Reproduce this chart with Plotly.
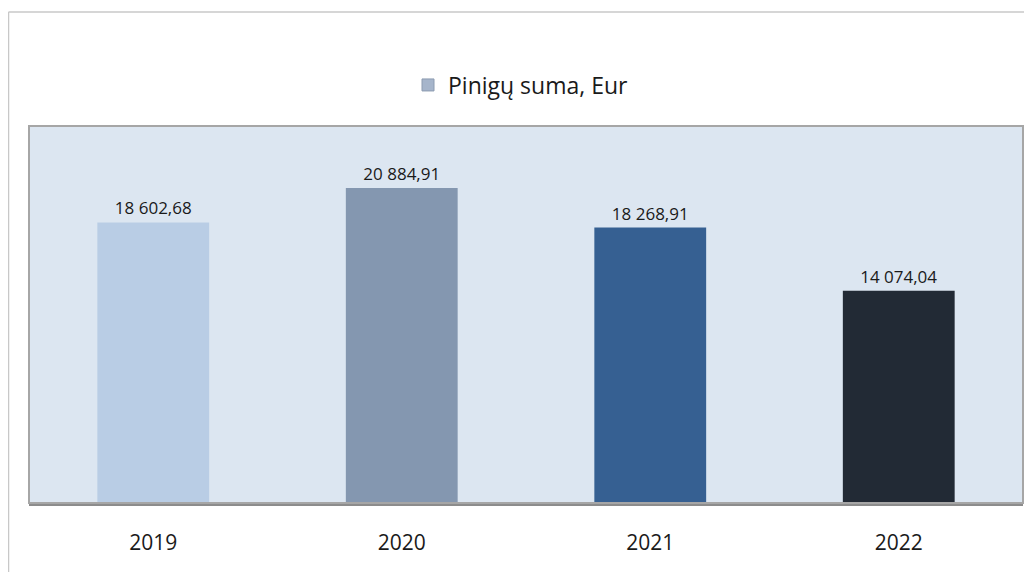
import plotly.graph_objects as go

years = ["2019", "2020", "2021", "2022"]
amounts = [18602.68, 20884.91, 18268.91, 14074.04]
bar_colors = ["#B9CDE5", "#8497B0", "#366092", "#222A35"]
series_name = "Pinigų suma, Eur"
legend_color = "#A6B5CB"

FONT = "Open Sans"
# page body has an 8px margin, so the figure is drawn 8px in from the window edge
W, H = 1024, 564
L, R, T, B = 21, 9, 118, 69
pw, ph = W - L - R, H - T - B

def px(x):
    return (x - L) / pw

def py(y):
    return (H - B - y) / ph

fig = go.Figure()
fig.add_trace(go.Bar(
    x=years, y=amounts,
    marker=dict(color=bar_colors, line=dict(width=0)),
    width=0.45,
    texttemplate="%{y:,.2f}",
    textposition="outside",
    textfont=dict(family=FONT, size=17, color="#1a1a1a"),
    cliponaxis=False,
    showlegend=False,
    hoverinfo="skip",
))
# legend entry
fig.add_trace(go.Bar(
    x=[None], y=[None], name=series_name,
    marker=dict(color=legend_color, line=dict(color="#8C9BB0", width=1)),
    showlegend=True,
))

shapes = [
    # plot area frame
    dict(type="rect", xref="paper", yref="paper", x0=0, x1=1, y0=0, y1=1,
         line=dict(color="#A6A6A6", width=2), layer="above"),
    # outer chart border
    dict(type="line", xref="paper", yref="paper", x0=px(0.5), x1=px(0.5), y0=py(4), y1=py(570),
         line=dict(color="#C8C8C8", width=1.5)),
    dict(type="line", xref="paper", yref="paper", x0=px(0.5), x1=px(1030), y0=py(4), y1=py(4),
         line=dict(color="#C8C8C8", width=1.5)),
]

fig.update_layout(
    width=W, height=H,
    margin=dict(l=L, r=R, t=T, b=B, pad=0),
    paper_bgcolor="white",
    plot_bgcolor="#DCE6F1",
    separators=", ",
    bargap=0.55,
    font=dict(family=FONT, color="#1a1a1a"),
    showlegend=True,
    legend=dict(
        orientation="h", x=px(513), y=py(77), xanchor="center", yanchor="middle",
        font=dict(family=FONT, size=23, color="#1a1a1a"),
        bgcolor="rgba(0,0,0,0)", itemwidth=30,
    ),
    xaxis=dict(
        showgrid=False, showline=True, linecolor="#8C8C8C", linewidth=3,
        ticks="", tickfont=dict(family=FONT, size=21, color="#1a1a1a"),
        ticklabelstandoff=19, fixedrange=True,
    ),
    yaxis=dict(
        range=[0, 25000], showgrid=False, showticklabels=False, zeroline=False,
        showline=False, ticks="", fixedrange=True,
    ),
    shapes=shapes,
)

fig.write_html("out.html")
